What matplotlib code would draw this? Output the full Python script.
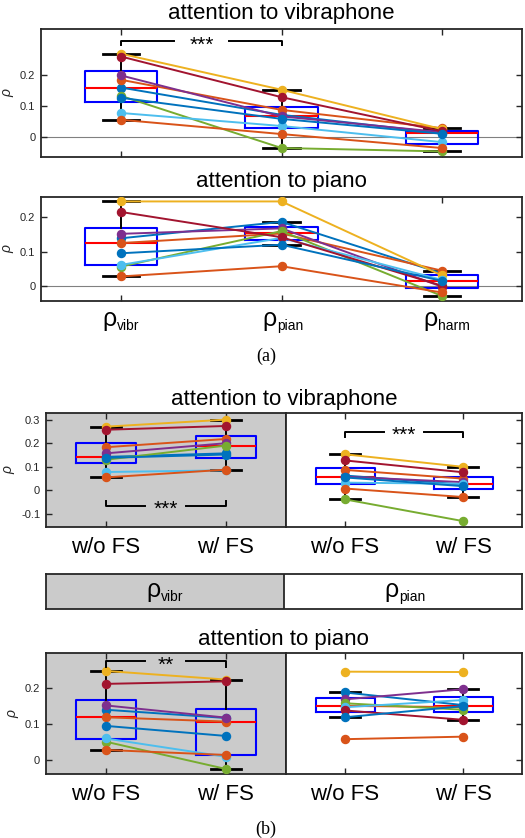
import matplotlib
matplotlib.use("Agg")
import matplotlib.pyplot as plt
import numpy as np

plt.rcParams["font.family"] = ["Liberation Sans", "DejaVu Sans"]

# subject colours (MATLAB default order, 9 subjects)
colors = ["#0072BD", "#D95319", "#EDB120", "#7E2F8E", "#77AC30",
          "#4DBEEE", "#A2142F", "#0072BD", "#D95319"]

# (a) attention to vibraphone: rho_vibr, rho_pian, rho_harm
a_vib_vibr = [0.159, 0.184, 0.268, 0.198, 0.132, 0.077, 0.259, 0.126, 0.055]
a_vib_pian = [0.071, 0.087, 0.152, 0.066, -0.036, 0.035, 0.128, 0.058, 0.009]
a_vib_harm = [0.012, 0.028, 0.025, 0.015, -0.047, -0.017, 0.018, 0.010, -0.036]
# (a) attention to piano
a_pia_vibr = [0.139, 0.125, 0.247, 0.152, 0.056, 0.061, 0.216, 0.095, 0.027]
a_pia_pian = [0.187, 0.153, 0.247, 0.168, 0.160, 0.140, 0.142, 0.120, 0.057]
a_pia_harm = [0.036, 0.044, 0.030, -0.003, -0.030, 0.017, 0.000, 0.014, -0.020]

# (b) attention to vibraphone, without / with FS
b_vib_vibr_wo = [0.142, 0.183, 0.270, 0.157, 0.130, 0.078, 0.257, 0.138, 0.055]
b_vib_vibr_w = [0.157, 0.218, 0.300, 0.200, 0.190, 0.085, 0.273, 0.152, 0.088]
b_vib_pian_wo = [0.063, 0.087, 0.153, 0.058, -0.038, 0.033, 0.127, 0.055, 0.008]
b_vib_pian_w = [0.025, 0.050, 0.100, 0.035, -0.130, 0.028, 0.077, 0.018, -0.028]
# (b) attention to piano
b_pia_vibr_wo = [0.140, 0.119, 0.248, 0.152, 0.051, 0.060, 0.212, 0.095, 0.028]
b_pia_vibr_w = [0.117, 0.107, 0.224, 0.118, -0.025, 0.009, 0.219, 0.067, 0.014]
b_pia_pian_wo = [0.188, 0.151, 0.246, 0.169, 0.158, 0.147, 0.138, 0.119, 0.058]
b_pia_pian_w = [0.153, 0.147, 0.245, 0.197, 0.140, 0.167, 0.112, 0.150, 0.065]

a_subs = ["vibr", "pian", "harm"]
b_labels = ["w/o FS", "w/ FS"]

W, H = 525, 838
GRAY = "#CBCBCB"
DARK = "#262626"

fig = plt.figure(figsize=(W / 100, H / 100), dpi=100)


def px_axes(left, top, right, bottom):
    return fig.add_axes([left / W, 1 - bottom / H, (right - left) / W, (bottom - top) / H])


def box_stats(vals):
    v = np.asarray(vals)
    q1, med, q3 = np.percentile(v, [25, 50, 75], method="hazen")
    iqr = q3 - q1
    lo = v[v >= q1 - 1.5 * iqr].min()
    hi = v[v <= q3 + 1.5 * iqr].max()
    return dict(med=med, q1=q1, q3=q3, whislo=lo, whishi=hi, fliers=[])


def draw_panel(ax, columns, width):
    pos = np.arange(1, len(columns) + 1)
    ax.bxp([box_stats(c) for c in columns], positions=pos, widths=width,
           showfliers=False, manage_ticks=False,
           boxprops=dict(color="blue", lw=1.5),
           medianprops=dict(color="red", lw=1.5),
           whiskerprops=dict(color="black", lw=1.4),
           capprops=dict(color="black", lw=2.0))
    data = np.array(columns).T
    for row, c in zip(data, colors):
        ax.plot(pos, row, "-o", color=c, lw=1.4, ms=5.8, zorder=3)
    ax.set_xlim(0.5, len(columns) + 0.5)


def style(ax, yticks, left=True, right=True, ylabel=True):
    ax.tick_params(direction="in", top=True, right=right, left=left, length=4,
                   width=1, colors=DARK, labelsize=8, pad=4)
    ax.tick_params(axis="x", labelsize=16, labelcolor="black", pad=7)
    ax.set_yticks(yticks)
    if left:
        ax.set_yticklabels([f"{t:g}" for t in yticks])
    else:
        ax.set_yticklabels([])
    for s in ax.spines.values():
        s.set_linewidth(1.3)
        s.set_color(DARK)
    if ylabel:
        ax.set_ylabel("ρ", fontstyle="italic", fontsize=10, color=DARK, labelpad=4)


def rho_label(ax, x, y, coords, sub, dy=0):
    # rho with a small subscript, centred on x
    rho = ax.annotate("ρ", xy=(x, y), xycoords=coords, xytext=(-8.5, dy),
                      textcoords="offset points", ha="center", va="center", fontsize=18)
    ax.annotate(sub, xy=(1, 0), xycoords=rho, xytext=(0.5, 1.0),
                textcoords="offset points", ha="left", va="baseline", fontsize=10)


def bracket(ax, x0, x1, y, tick, stars, gap=(0.33, 0.67)):
    g0 = x0 + (x1 - x0) * gap[0]
    g1 = x0 + (x1 - x0) * gap[1]
    kw = dict(color="black", lw=1.4, zorder=4)
    ax.plot([x0, x0, g0], [y + tick, y, y], **kw)
    ax.plot([g1, x1, x1], [y, y, y + tick], **kw)
    ax.annotate(stars, xy=((g0 + g1) / 2, y), xytext=(0, -3), textcoords="offset points",
                ha="center", va="center", fontsize=15, zorder=4)


# ---- (a) ----
ax1 = px_axes(41, 29, 522, 157)
draw_panel(ax1, [a_vib_vibr, a_vib_pian, a_vib_harm], 0.45)
ax1.axhline(0, color="#808080", lw=0.8, zorder=1)
ax1.set_ylim(-0.065, 0.348)
ax1.set_xticks([1, 2, 3])
ax1.set_xticklabels([])
style(ax1, [0, 0.1, 0.2])
bracket(ax1, 1, 2, 0.31, -0.014, "***")
fig.text(281.5 / W, 1 - 14 / H, "attention to vibraphone", ha="center", va="center", fontsize=16)

ax2 = px_axes(41, 197, 522, 301)
draw_panel(ax2, [a_pia_vibr, a_pia_pian, a_pia_harm], 0.45)
ax2.axhline(0, color="#808080", lw=0.8, zorder=1)
ax2.set_ylim(-0.045, 0.26)
ax2.set_xticks([1, 2, 3])
ax2.set_xticklabels([])
style(ax2, [0, 0.1, 0.2])
for i, sub in enumerate(a_subs):
    rho_label(ax2, i + 1, 0, ax2.get_xaxis_transform(), sub, dy=-13)
fig.text(281.5 / W, 1 - 182 / H, "attention to piano", ha="center", va="center", fontsize=16)
fig.text(266 / W, 1 - 356 / H, "(a)", ha="center", va="center", fontsize=13,
         family="Liberation Serif")

# ---- (b) ----
bx_l, bx_m, bx_r = 45.7, 286, 522


def b_pair(top, bottom, left_cols, right_cols, ylim, yticks):
    axl = px_axes(bx_l, top, bx_m, bottom)
    axr = px_axes(bx_m, top, bx_r, bottom)
    axl.set_facecolor(GRAY)
    draw_panel(axl, left_cols, 0.5)
    draw_panel(axr, right_cols, 0.5)
    for ax in (axl, axr):
        ax.set_ylim(*ylim)
        ax.set_xticks([1, 2])
        ax.set_xticklabels(b_labels)
    style(axl, yticks, right=False)
    style(axr, yticks, left=False, ylabel=False)
    return axl, axr


b1l, b1r = b_pair(413, 527, [b_vib_vibr_wo, b_vib_vibr_w], [b_vib_pian_wo, b_vib_pian_w],
                  (-0.155, 0.328), [-0.1, 0, 0.1, 0.2, 0.3])
bracket(b1l, 1, 2, -0.064, 0.02, "***")
bracket(b1r, 1, 2, 0.249, -0.021, "***")
fig.text((bx_l + bx_r) / 2 / W, 1 - 399 / H, "attention to vibraphone", ha="center",
         va="center", fontsize=16)

# label bar between the (b) panels
axb = px_axes(bx_l, 574, bx_r, 609)
axb.set_xlim(0, 2)
axb.set_ylim(0, 1)
axb.axvspan(0, 1, color=GRAY, lw=0)
axb.axvline(1, color=DARK, lw=1.3)
axb.set_xticks([])
axb.set_yticks([])
for s in axb.spines.values():
    s.set_linewidth(1.3)
    s.set_color(DARK)
for i, sub in enumerate(a_subs[:2]):
    rho_label(axb, i + 0.5, 0.5, "data", sub, dy=1)

b2l, b2r = b_pair(653, 774, [b_pia_vibr_wo, b_pia_vibr_w], [b_pia_pian_wo, b_pia_pian_w],
                  (-0.039, 0.298), [0, 0.1, 0.2])
bracket(b2l, 1, 2, 0.276, -0.016, "**")
fig.text((bx_l + bx_r) / 2 / W, 1 - 640 / H, "attention to piano", ha="center",
         va="center", fontsize=16)
fig.text(266 / W, 1 - 829 / H, "(b)", ha="center", va="center", fontsize=13,
         family="Liberation Serif")

fig.savefig("out.png", dpi=100)
